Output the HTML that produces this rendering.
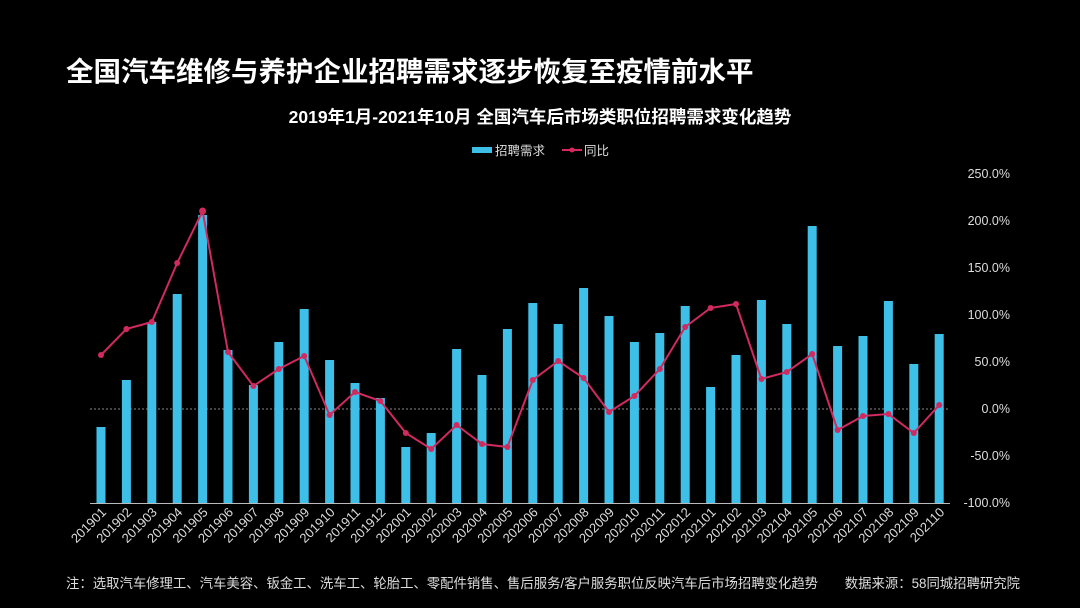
<!DOCTYPE html>
<html><head><meta charset="utf-8"><style>
html,body{margin:0;padding:0;background:#000;width:1080px;height:608px;overflow:hidden}
svg{display:block;font-family:"Liberation Sans","Noto Sans CJK SC",sans-serif}
</style></head><body>
<svg width="1080" height="608" viewBox="0 0 1080 608">
<rect width="1080" height="608" fill="#000"/>
<text x="66" y="81" fill="#fff" font-size="27.5" font-weight="bold">全国汽车维修与养护企业招聘需求逐步恢复至疫情前水平</text>
<text x="540" y="123" fill="#fff" font-size="17.5" font-weight="bold" text-anchor="middle">2019年1月-2021年10月  全国汽车后市场类职位招聘需求变化趋势</text>
<rect x="472" y="147" width="20" height="6" fill="#3dbfe8"/>
<text x="495" y="155" fill="#ddd" font-size="12.5">招聘需求</text>
<line x1="562" y1="150" x2="582" y2="150" stroke="#d8265e" stroke-width="2"/><circle cx="572" cy="150" r="2.5" fill="#d8265e"/>
<text x="584" y="155" fill="#ddd" font-size="12.5">同比</text>
<g fill="#ddd" font-size="12.5" text-anchor="end">
<text x="1010" y="178">250.0%</text><text x="1010" y="225">200.0%</text><text x="1010" y="272">150.0%</text><text x="1010" y="319">100.0%</text><text x="1010" y="366">50.0%</text><text x="1010" y="413">0.0%</text><text x="1010" y="460">-50.0%</text><text x="1010" y="507">-100.0%</text>
</g>
<line x1="90" y1="409" x2="950" y2="409" stroke="#888" stroke-width="1" stroke-dasharray="2,2"/>
<g fill="#3dbfe8">
<rect x="96.5" y="427" width="9" height="76"/><rect x="121.9" y="380" width="9" height="123"/><rect x="147.3" y="322" width="9" height="181"/><rect x="172.7" y="294" width="9" height="209"/><rect x="198.1" y="215" width="9" height="288"/><rect x="223.5" y="350" width="9" height="153"/><rect x="248.9" y="385" width="9" height="118"/><rect x="274.3" y="342" width="9" height="161"/><rect x="299.7" y="309" width="9" height="194"/><rect x="325.1" y="360" width="9" height="143"/><rect x="350.5" y="383" width="9" height="120"/><rect x="375.9" y="398" width="9" height="105"/><rect x="401.3" y="447" width="9" height="56"/><rect x="426.7" y="433" width="9" height="70"/><rect x="452.1" y="349" width="9" height="154"/><rect x="477.5" y="375" width="9" height="128"/><rect x="502.9" y="329" width="9" height="174"/><rect x="528.3" y="303" width="9" height="200"/><rect x="553.7" y="324" width="9" height="179"/><rect x="579.1" y="288" width="9" height="215"/><rect x="604.5" y="316" width="9" height="187"/><rect x="629.9" y="342" width="9" height="161"/><rect x="655.3" y="333" width="9" height="170"/><rect x="680.7" y="306" width="9" height="197"/><rect x="706.1" y="387" width="9" height="116"/><rect x="731.5" y="355" width="9" height="148"/><rect x="756.9" y="300" width="9" height="203"/><rect x="782.3" y="324" width="9" height="179"/><rect x="807.7" y="226" width="9" height="277"/><rect x="833.1" y="346" width="9" height="157"/><rect x="858.5" y="336" width="9" height="167"/><rect x="883.9" y="301" width="9" height="202"/><rect x="909.3" y="364" width="9" height="139"/><rect x="934.7" y="334" width="9" height="169"/>
</g>
<line x1="90" y1="503.5" x2="950" y2="503.5" stroke="#bbb" stroke-width="1"/>
<polyline fill="none" stroke="#d02a5e" stroke-width="2" points="101,355 126.4,329 151.8,322 177.2,263 202.6,211 228,352 253.4,386 278.8,369 304.2,356 329.6,415 355,392 380.4,401 405.8,433 431.2,449 456.6,425 482,444 507.4,447 532.8,380 558.2,361 583.6,378 609,412 634.4,396 659.8,369 685.2,327 710.6,308 736,304 761.4,379 786.8,372 812.2,354 837.6,430 863,416 888.4,414 913.8,433 939.2,405"/>
<g fill="#d02a5e">
<circle cx="101" cy="355" r="3"/><circle cx="126.4" cy="329" r="3"/><circle cx="151.8" cy="322" r="3"/><circle cx="177.2" cy="263" r="3"/><circle cx="202.6" cy="211" r="3.5"/><circle cx="228" cy="352" r="3"/><circle cx="253.4" cy="386" r="3"/><circle cx="278.8" cy="369" r="3"/><circle cx="304.2" cy="356" r="3"/><circle cx="329.6" cy="415" r="3"/><circle cx="355" cy="392" r="3"/><circle cx="380.4" cy="401" r="3"/><circle cx="405.8" cy="433" r="3"/><circle cx="431.2" cy="449" r="3"/><circle cx="456.6" cy="425" r="3"/><circle cx="482" cy="444" r="3"/><circle cx="507.4" cy="447" r="3"/><circle cx="532.8" cy="380" r="3"/><circle cx="558.2" cy="361" r="3"/><circle cx="583.6" cy="378" r="3"/><circle cx="609" cy="412" r="3"/><circle cx="634.4" cy="396" r="3"/><circle cx="659.8" cy="369" r="3"/><circle cx="685.2" cy="327" r="3"/><circle cx="710.6" cy="308" r="3"/><circle cx="736" cy="304" r="3"/><circle cx="761.4" cy="379" r="3"/><circle cx="786.8" cy="372" r="3"/><circle cx="812.2" cy="354" r="3"/><circle cx="837.6" cy="430" r="3"/><circle cx="863" cy="416" r="3"/><circle cx="888.4" cy="414" r="3"/><circle cx="913.8" cy="433" r="3"/><circle cx="939.2" cy="405" r="3"/>
</g>
<g fill="#ddd" font-size="13" text-anchor="end">
<text transform="translate(107,513) rotate(-45)">201901</text>
<text transform="translate(132.4,513) rotate(-45)">201902</text>
<text transform="translate(157.8,513) rotate(-45)">201903</text>
<text transform="translate(183.2,513) rotate(-45)">201904</text>
<text transform="translate(208.6,513) rotate(-45)">201905</text>
<text transform="translate(234,513) rotate(-45)">201906</text>
<text transform="translate(259.4,513) rotate(-45)">201907</text>
<text transform="translate(284.8,513) rotate(-45)">201908</text>
<text transform="translate(310.2,513) rotate(-45)">201909</text>
<text transform="translate(335.6,513) rotate(-45)">201910</text>
<text transform="translate(361,513) rotate(-45)">201911</text>
<text transform="translate(386.4,513) rotate(-45)">201912</text>
<text transform="translate(411.8,513) rotate(-45)">202001</text>
<text transform="translate(437.2,513) rotate(-45)">202002</text>
<text transform="translate(462.6,513) rotate(-45)">202003</text>
<text transform="translate(488,513) rotate(-45)">202004</text>
<text transform="translate(513.4,513) rotate(-45)">202005</text>
<text transform="translate(538.8,513) rotate(-45)">202006</text>
<text transform="translate(564.2,513) rotate(-45)">202007</text>
<text transform="translate(589.6,513) rotate(-45)">202008</text>
<text transform="translate(615,513) rotate(-45)">202009</text>
<text transform="translate(640.4,513) rotate(-45)">202010</text>
<text transform="translate(665.8,513) rotate(-45)">202011</text>
<text transform="translate(691.2,513) rotate(-45)">202012</text>
<text transform="translate(716.6,513) rotate(-45)">202101</text>
<text transform="translate(742,513) rotate(-45)">202102</text>
<text transform="translate(767.4,513) rotate(-45)">202103</text>
<text transform="translate(792.8,513) rotate(-45)">202104</text>
<text transform="translate(818.2,513) rotate(-45)">202105</text>
<text transform="translate(843.6,513) rotate(-45)">202106</text>
<text transform="translate(869,513) rotate(-45)">202107</text>
<text transform="translate(894.4,513) rotate(-45)">202108</text>
<text transform="translate(919.8,513) rotate(-45)">202109</text>
<text transform="translate(945.2,513) rotate(-45)">202110</text>
</g>
<text x="66" y="588" fill="#ddd" font-size="13.4" textLength="954" lengthAdjust="spacingAndGlyphs">注：选取汽车修理工、汽车美容、钣金工、洗车工、轮胎工、零配件销售、售后服务/客户服务职位反映汽车后市场招聘变化趋势　　数据来源：58同城招聘研究院</text>
</svg>
</body></html>
